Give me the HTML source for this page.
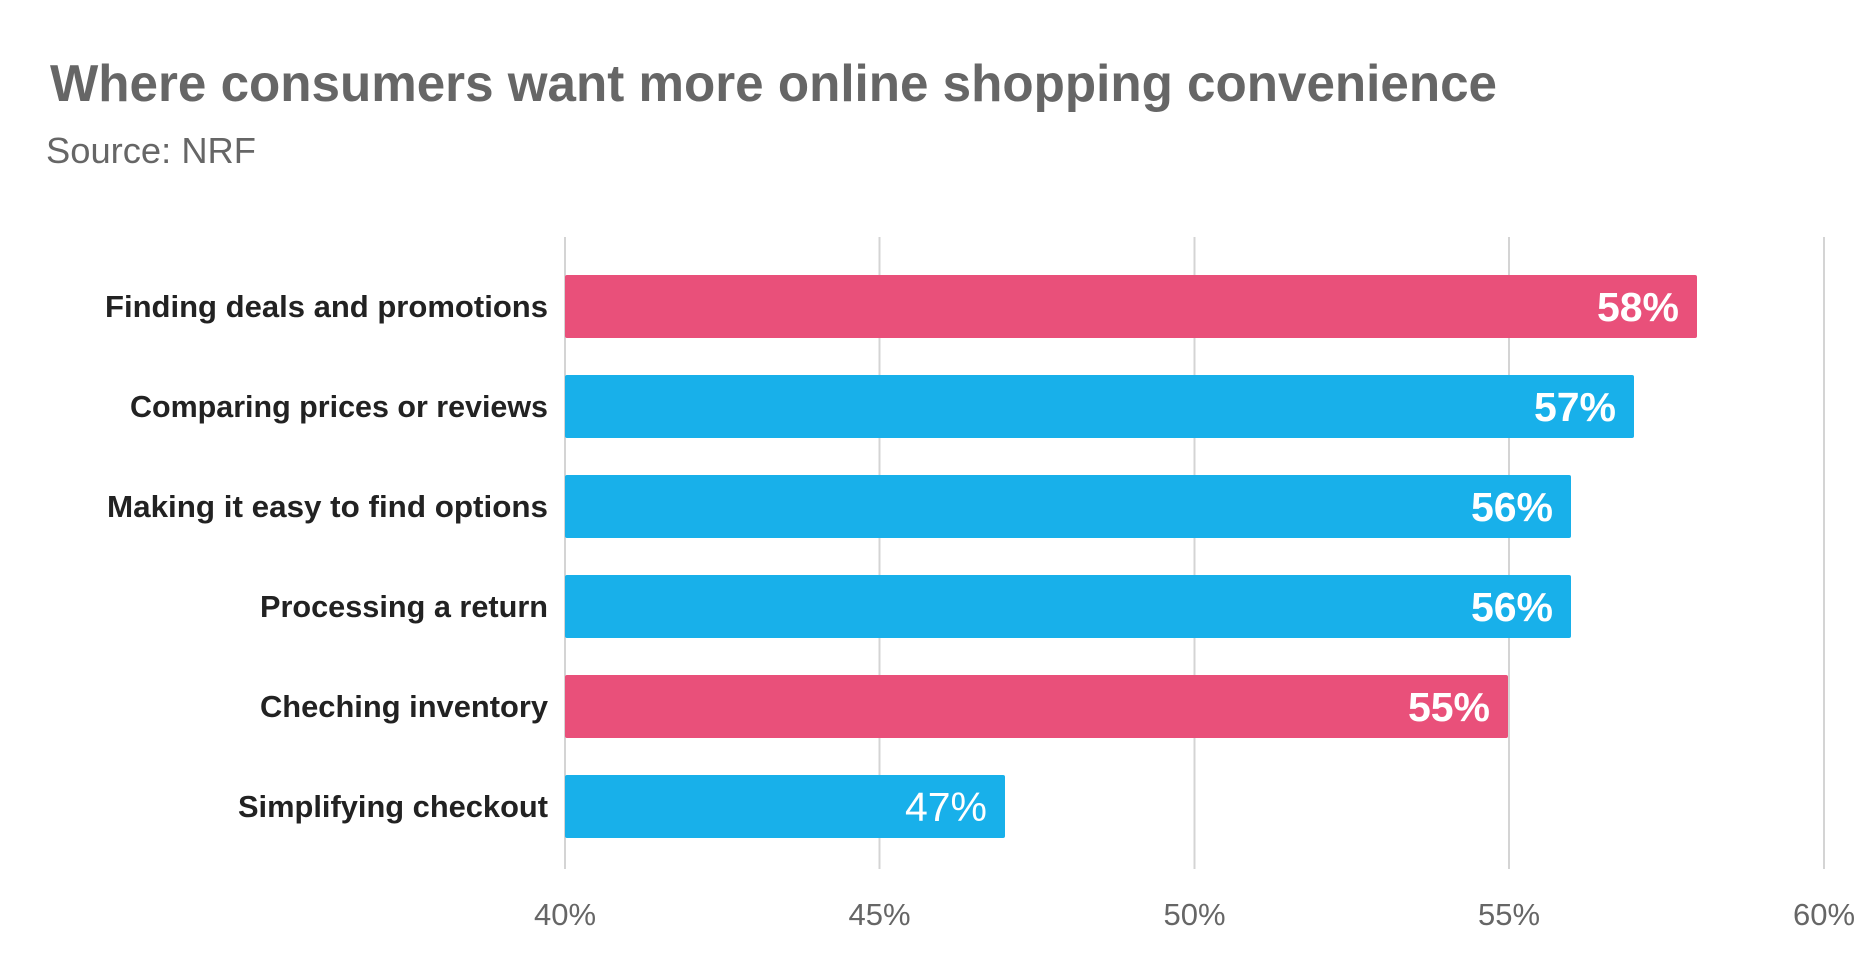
<!DOCTYPE html>
<html><head><meta charset="utf-8"><style>
html,body{margin:0;padding:0;background:#fff;}
svg{display:block;font-family:"Liberation Sans",sans-serif;}
</style></head><body>
<svg width="1867" height="970" viewBox="0 0 1867 970" xmlns="http://www.w3.org/2000/svg">
<rect width="1867" height="970" fill="#fff"/>
<text x="50" y="101" font-size="52" font-weight="bold" fill="#666" textLength="1447" lengthAdjust="spacingAndGlyphs">Where consumers want more online shopping convenience</text>
<text x="46" y="163" font-size="36" fill="#666" textLength="210" lengthAdjust="spacingAndGlyphs">Source: NRF</text>
<g stroke="#d4d4d4" stroke-width="2">
<line x1="565" y1="237" x2="565" y2="869"/>
<line x1="879.5" y1="237" x2="879.5" y2="869"/>
<line x1="1194.5" y1="237" x2="1194.5" y2="869"/>
<line x1="1509" y1="237" x2="1509" y2="869"/>
<line x1="1824" y1="237" x2="1824" y2="869"/>
</g>
<g>
<rect x="565" y="275" width="1132" height="63" rx="2" fill="#E9507A"/>
<rect x="565" y="375" width="1069" height="63" rx="2" fill="#18B0EA"/>
<rect x="565" y="475" width="1006" height="63" rx="2" fill="#18B0EA"/>
<rect x="565" y="575" width="1006" height="63" rx="2" fill="#18B0EA"/>
<rect x="565" y="675" width="943" height="63" rx="2" fill="#E9507A"/>
<rect x="565" y="775" width="440" height="63" rx="2" fill="#18B0EA"/>
</g>
<g font-size="31" font-weight="bold" fill="#222" text-anchor="end" lengthAdjust="spacingAndGlyphs">
<text x="548" y="317" textLength="443" lengthAdjust="spacingAndGlyphs">Finding deals and promotions</text>
<text x="548" y="417" textLength="418" lengthAdjust="spacingAndGlyphs">Comparing prices or reviews</text>
<text x="548" y="517" textLength="441" lengthAdjust="spacingAndGlyphs">Making it easy to find options</text>
<text x="548" y="617" textLength="288" lengthAdjust="spacingAndGlyphs">Processing a return</text>
<text x="548" y="717" textLength="288" lengthAdjust="spacingAndGlyphs">Cheching inventory</text>
<text x="548" y="817" textLength="310" lengthAdjust="spacingAndGlyphs">Simplifying checkout</text>
</g>
<g font-size="41" font-weight="bold" fill="#fff" text-anchor="end">
<text x="1679" y="321">58%</text>
<text x="1616" y="421">57%</text>
<text x="1553" y="521">56%</text>
<text x="1553" y="621">56%</text>
<text x="1490" y="721">55%</text>
<text x="987" y="821" font-weight="normal">47%</text>
</g>
<g font-size="31" fill="#666" text-anchor="middle">
<text x="565" y="925">40%</text>
<text x="879.5" y="925">45%</text>
<text x="1194.5" y="925">50%</text>
<text x="1509" y="925">55%</text>
<text x="1824" y="925">60%</text>
</g>
</svg>
</body></html>
